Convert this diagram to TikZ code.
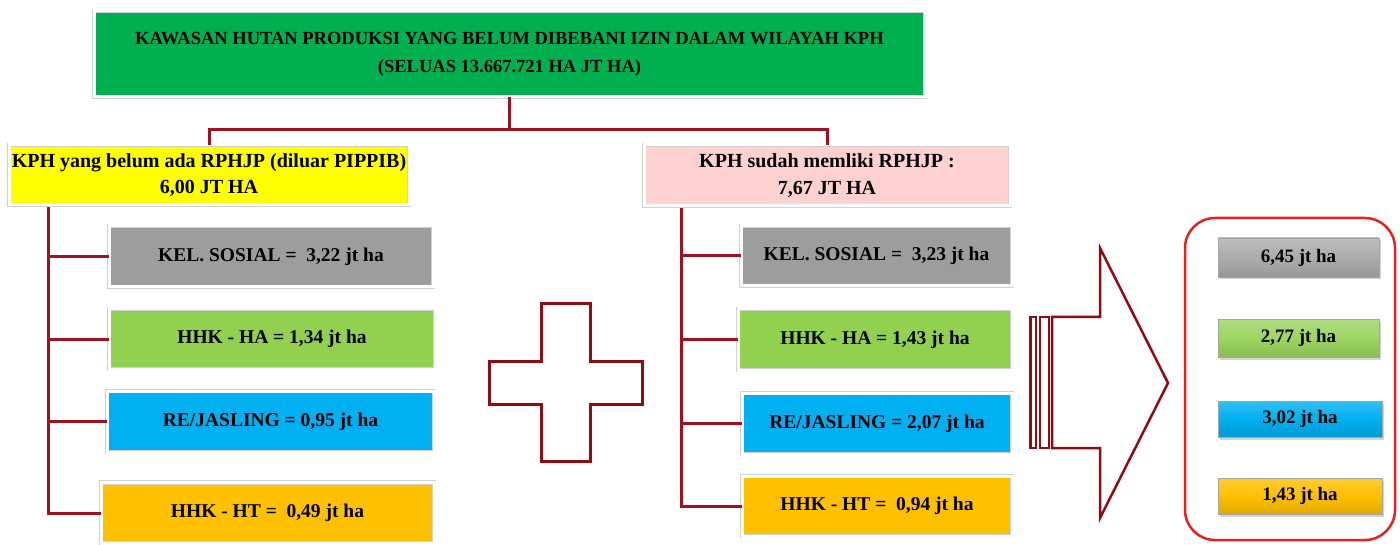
\documentclass[tikz,border=0pt]{standalone}
\usepackage{fontspec}
\setmainfont{Liberation Serif}
\usetikzlibrary{shadows}
\definecolor{topgreen}{HTML}{00B050}
\definecolor{kyellow}{HTML}{FFFF00}
\definecolor{kpink}{HTML}{FFD1D1}
\definecolor{kgray}{HTML}{9D9D9D}
\definecolor{kgreen}{HTML}{92D050}
\definecolor{kblue}{HTML}{00B0F0}
\definecolor{korange}{HTML}{FFC000}
\definecolor{conncol}{HTML}{A0121F}
\definecolor{shapecol}{HTML}{8E0C12}
\definecolor{framecol}{HTML}{E8211F}
\tikzset{
  panel/.style={draw=black!18, line width=0.6pt, double=white, double distance=3pt,
    align=center, inner sep=0pt, font=\bfseries\fontsize{19.5}{27}\selectfont},
  sumbox/.style={draw=black!35, line width=0.4pt, inner sep=0pt,
    top color=#1!80!white, bottom color=#1!88!black, middle color=#1,
    drop shadow={shadow xshift=1.5pt, shadow yshift=-2.5pt, opacity=0.35},
    font=\bfseries\fontsize{19}{22}\selectfont},
  conn/.style={draw=conncol, line width=3pt},
  outline/.style={draw=shapecol, line width=3pt, line join=miter}
}
\begin{document}
\begin{tikzpicture}[x=1pt,y=-1pt]
\useasboundingbox (0,0) rectangle (1400,545);

% top box
\node[panel, fill=topgreen, minimum width=831, minimum height=86,
  font=\bfseries\fontsize{18.5}{28}\selectfont] (top) at (509.5,54)
  {KAWASAN HUTAN PRODUKSI YANG BELUM DIBEBANI IZIN DALAM WILAYAH KPH\\(SELUAS 13.667.721 HA JT HA)};

% second level
\node[panel, fill=kyellow, minimum width=400, minimum height=60,
  font=\bfseries\fontsize{20}{26}\selectfont] (kl) at (209,175)
  {KPH yang belum ada RPHJP (diluar PIPPIB)\\6,00 JT HA};
\node[panel, fill=kpink, minimum width=366, minimum height=61,
  font=\bfseries\fontsize{20}{27}\selectfont] (kr) at (827,175.5)
  {KPH sudah memliki RPHJP :\\7,67 JT HA};

% left group
\node[panel, fill=kgray, minimum width=324, minimum height=61] (l1) at (271,256.5)
  {KEL. SOSIAL =\ \ 3,22 jt ha};
\node[panel, fill=kgreen, minimum width=326, minimum height=60] (l2) at (272,339)
  {HHK - HA = 1,34 jt ha};
\node[panel, fill=kblue, minimum width=327, minimum height=61] (l3) at (270.5,421.5)
  {RE/JASLING = 0,95 jt ha};
\node[panel, fill=korange, minimum width=333, minimum height=61] (l4) at (267.5,513)
  {HHK - HT =\ \ 0,49 jt ha};

% right group
\node[panel, fill=kgray, minimum width=271, minimum height=60] (r1) at (876.5,256)
  {KEL. SOSIAL =\ \ 3,23 jt ha};
\node[panel, fill=kgreen, minimum width=274, minimum height=61] (r2) at (875,339.5)
  {HHK - HA = 1,43 jt ha};
\node[panel, fill=kblue, minimum width=270, minimum height=61] (r3) at (877,423.5)
  {RE/JASLING = 2,07 jt ha};
\node[panel, fill=korange, minimum width=270, minimum height=60] (r4) at (877,506)
  {HHK - HT =\ \ 0,94 jt ha};

% connectors
\draw[conn] (top.south) -- ++(0,32) -| (kl.north);
\draw[conn] (top.south) ++(0,32) -| (kr.north);

\coordinate (ltrunk) at (48,207);
\draw[conn] (ltrunk) |- (l4.west);
\foreach \n in {l1,l2,l3} \draw[conn] (ltrunk |- \n.west) -- (\n.west);

\coordinate (rtrunk) at (681,208);
\draw[conn] (rtrunk) |- (r4.west);
\foreach \n in {r1,r2,r3} \draw[conn] (rtrunk |- \n.west) -- (\n.west);

% plus sign
\draw[outline] (541,304) -- (590,304) -- (590,361) -- (642,361) -- (642,404)
  -- (590,404) -- (590,461) -- (541,461) -- (541,404) -- (489,404) -- (489,361)
  -- (541,361) -- cycle;

% striped block arrow
\draw[outline, line width=2.5pt] (1030.5,317) rectangle (1036,448);
\draw[outline, line width=2.5pt] (1040,317) rectangle (1049,448);
\draw[outline, line width=2.5pt] (1052,317) -- (1100,317) -- (1100,248) -- (1168,383)
  -- (1100,518) -- (1100,448) -- (1052,448) -- cycle;

% totals
\draw[draw=framecol, line width=2.5pt, rounded corners=30pt] (1185,218) rectangle (1395,540);
\node[sumbox=kgray!85!white, minimum width=161, minimum height=39] (t1) at (1298.5,257.5) {6,45 jt ha};
\node[sumbox=kgreen!90!white, minimum width=161, minimum height=38] (t2) at (1298.5,338) {2,77 jt ha};
\node[sumbox=kblue, minimum width=164, minimum height=36] (t3) at (1300,419) {3,02 jt ha};
\node[sumbox=korange, minimum width=164, minimum height=36] (t4) at (1300,496) {1,43 jt ha};
\end{tikzpicture}
\end{document}
